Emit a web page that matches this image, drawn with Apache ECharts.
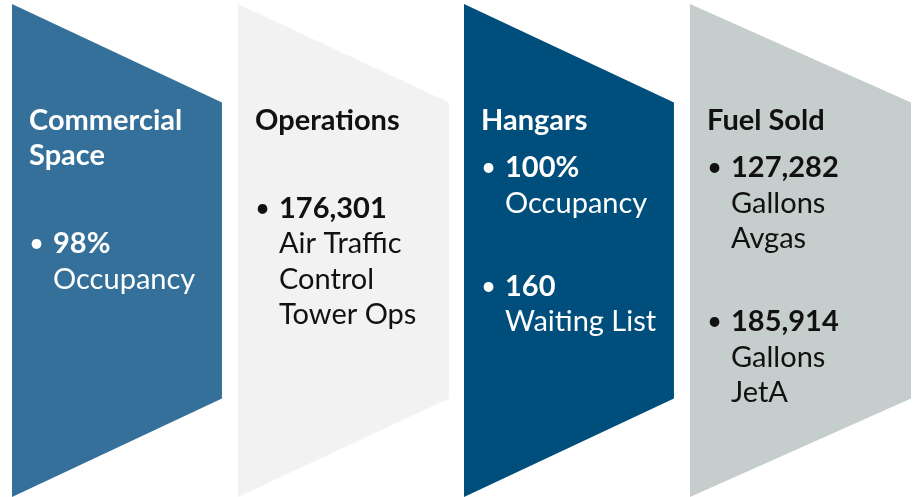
<!DOCTYPE html>
<html><head><meta charset="utf-8">
<script src="https://cdn.jsdelivr.net/npm/echarts@6/dist/echarts.min.js"></script>
<style>html,body{margin:0;padding:0;background:#fff;}#chart{width:917px;height:497px;}</style>
</head><body><div id="chart"></div>
<script>
// ---- data ----
const categories = ['Commercial Space', 'Operations', 'Hangars', 'Fuel Sold'];
const titleLines = [['Commercial', 'Space'], ['Operations'], ['Hangars'], ['Fuel Sold']];
const figures = [['98%'], ['176,301'], ['100%', '160'], ['127,282', '185,914']];
const figureLabels = [
  [['Occupancy']],
  [['Air Traffic', 'Control', 'Tower Ops']],
  [['Occupancy'], ['Waiting List']],
  [['Gallons', 'Avgas'], ['Gallons', 'JetA']]
];

// ---- styles / layout ----
const fills = ['#34709a', '#f2f2f2', '#004e7c', '#c5cdcd'];
const textColors = ['#ffffff', '#111111', '#ffffff', '#111111'];
const widthRatio = [0.929, 0.933, 0.929, 0.978];
const gapAfterTitle = [88, 88, 47.5, 47.5];
const itemGap = 83;
const lineH = 35.5;
const firstBaseline = 126;
const fontSize = 29;
const fontFamily = 'Lato, "Open Sans", sans-serif';
const padLeft = 17, indent = 24;
const midShift = 0.33 * fontSize;

const chart = echarts.init(document.getElementById('chart'), null, {renderer: 'canvas'});

function renderItem(params, api) {
  const i = api.value(0);
  const band = api.size([1, 0])[0];
  const topPt = api.coord([i, 100]);
  const left = topPt[0] - band / 2;
  const top = topPt[1];
  const bottom = api.coord([i, 0])[1];
  const right = left + band * widthRatio[i];
  const shoulderTop = api.coord([i, 80])[1];
  const shoulderBot = api.coord([i, 20])[1];
  const children = [{
    type: 'polygon',
    shape: {points: [[left, top], [right, shoulderTop], [right, shoulderBot], [left, bottom]]},
    style: {fill: fills[i]}
  }];
  const color = textColors[i];
  const txt = (s, x, base, bold, size) => ({
    type: 'text',
    style: {
      text: s, x: x, y: top + base - midShift,
      fill: color, verticalAlign: 'middle', align: 'left',
      font: (bold ? 'bold ' : '') + (size || fontSize) + 'px ' + fontFamily
    }
  });
  let base = firstBaseline;
  titleLines[i].forEach((t, k) => {
    if (k > 0) base += lineH;
    children.push(txt(t, left + padLeft, base, true));
  });
  base += gapAfterTitle[i];
  figures[i].forEach((f, j) => {
    if (j > 0) base += itemGap;
    children.push(txt('\u2022', left + padLeft, base, false, 26));
    children.push(txt(f, left + padLeft + indent, base, true));
    figureLabels[i][j].forEach((l) => {
      base += lineH;
      children.push(txt(l, left + padLeft + indent, base, false));
    });
  });
  return {type: 'group', children: children};
}

chart.setOption({
  animation: false,
  backgroundColor: '#ffffff',
  grid: {left: 12, right: 1, top: 4, bottom: 0},
  xAxis: {type: 'category', data: categories, show: false, boundaryGap: true},
  yAxis: {type: 'value', min: 0, max: 100, show: false},
  series: [{
    type: 'custom',
    renderItem: renderItem,
    data: categories.map((c, i) => [i, 100]),
    clip: false
  }]
});
</script></body></html>
